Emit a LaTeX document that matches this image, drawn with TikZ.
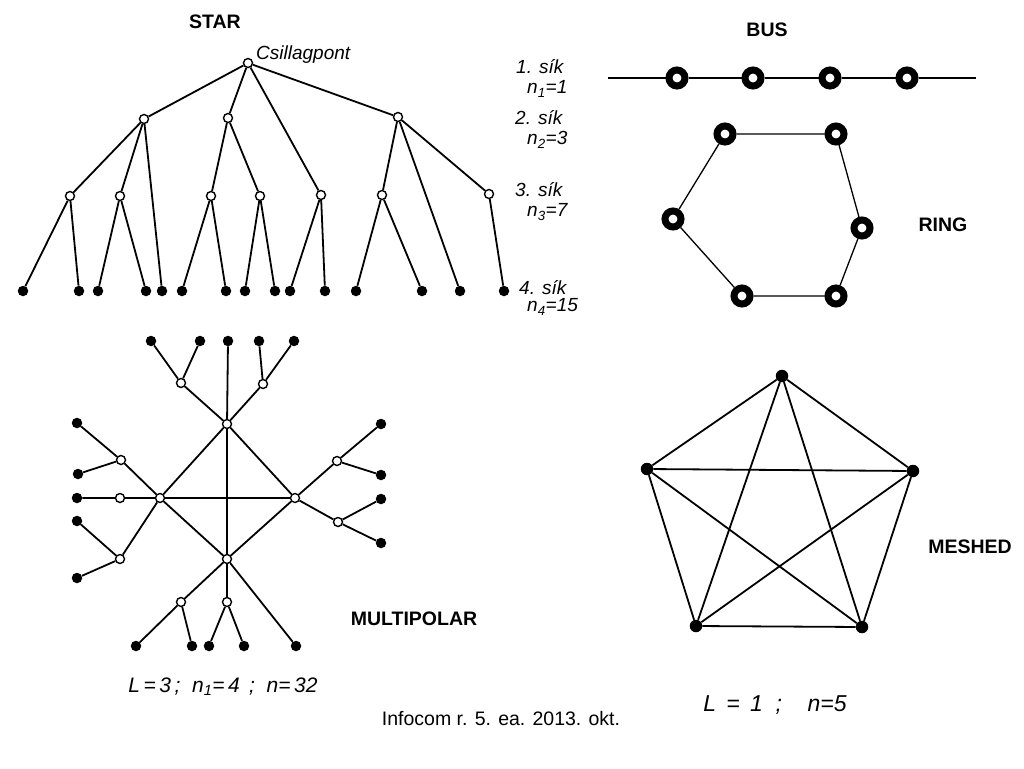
\documentclass[tikz,border=0pt]{standalone}
\usepackage{fontspec}
\setmainfont{Liberation Sans}
\begin{document}
\begin{tikzpicture}[x=1pt,y=-1pt,
  opn/.style={circle,draw,fill=white,inner sep=0pt,minimum size=9pt,line width=1.4pt},
  leaf/.style={circle,fill=black,inner sep=0pt,minimum size=10.5pt},
  busnode/.style={circle,draw,line width=7pt,fill=white,inner sep=0pt,minimum size=16pt},
  meshnode/.style={circle,fill=black,inner sep=0pt,minimum size=12.5pt},
  edge/.style={line width=1.8pt},
  thin/.style={line width=1.3pt},
  title/.style={font=\bfseries\fontsize{19.5}{22}\selectfont},
  hand/.style={font=\itshape\fontsize{19}{21}\selectfont,inner sep=0pt},
  handL/.style={font=\itshape\fontsize{21}{24}\selectfont,inner sep=0pt},
  handM/.style={font=\itshape\fontsize{23}{26}\selectfont,inner sep=0pt},
  foot/.style={font=\fontsize{19.5}{24}\selectfont}]
\useasboundingbox (0,0) rectangle (1024,768);

% ---------------- STAR ----------------
\node[opn] (R) at (248,63) {};
\node[opn] (a) at (144,119) {};
\node[opn] (b) at (228,118) {};
\node[opn] (c) at (398,117) {};
\node[opn] (a1) at (70,196) {};
\node[opn] (a2) at (120,196) {};
\node[opn] (b1) at (211,196) {};
\node[opn] (b2) at (260,196) {};
\node[opn] (d) at (321,195) {};
\node[opn] (c1) at (382,195) {};
\node[opn] (c2) at (489,194) {};
\foreach \i/\x in {1/23,2/79,3/98,4/146,5/162,6/182,7/226,8/245,9/275,10/290,11/325,12/356,13/422,14/460,15/504}
  \node[leaf] (s\i) at (\x,291) {};
\draw[edge] (R)--(a) (R)--(b) (R)--(c) (R)--(d)
  (a)--(a1) (a)--(a2) (a)--(s5)
  (b)--(b1) (b)--(b2)
  (c)--(c1) (c)--(s14) (c)--(c2)
  (a1)--(s1) (a1)--(s2) (a2)--(s3) (a2)--(s4)
  (b1)--(s6) (b1)--(s7) (b2)--(s8) (b2)--(s9)
  (d)--(s10) (d)--(s11) (c1)--(s12) (c1)--(s13) (c2)--(s15);
\node[hand,anchor=west] (cs) at (256,55) {Csillagpont};
\node[hand,anchor=west] (p1) at (516,67) {1. sík};
\node[hand,anchor=west] (q1) at (527,89) {n\textsubscript{1}=1};
\node[hand,anchor=west] (p2) at (515,118) {2. sík};
\node[hand,anchor=west] (q2) at (527,140) {n\textsubscript{2}=3};
\node[hand,anchor=west] (p3) at (515,190) {3. sík};
\node[hand,anchor=west] (q3) at (527,212) {n\textsubscript{3}=7};
\node[hand,anchor=west] (p4) at (519,288) {4. sík};
\node[hand,anchor=west] (q4) at (527,307) {n\textsubscript{4}=15};
\node[title] (startitle) at (215,22) {STAR};

% ---------------- MULTIPOLAR ----------------
\node[opn] (T) at (227,424) {};
\node[opn] (Lh) at (160,498) {};
\node[opn] (Rh) at (295,498) {};
\node[opn] (B) at (227,559) {};
\draw[edge] (T)--(Lh) (T)--(Rh) (B)--(Lh) (B)--(Rh) (T)--(B) (Lh)--(Rh);
% top
\node[opn] (t1) at (181,383) {};
\node[opn] (t2) at (263,384) {};
\node[leaf] (tl1) at (151,341) {};
\node[leaf] (tl2) at (200,341) {};
\node[leaf] (tl3) at (228,341) {};
\node[leaf] (tl4) at (259,341) {};
\node[leaf] (tl5) at (294,341) {};
\draw[edge] (T)--(t1) (T)--(t2) (T)--(tl3) (t1)--(tl1) (t1)--(tl2) (t2)--(tl4) (t2)--(tl5);
% left
\node[opn] (l1) at (121,460) {};
\node[opn] (l2) at (120,498) {};
\node[opn] (l3) at (120,559) {};
\node[leaf] (ll1) at (77,423) {};
\node[leaf] (ll2) at (78,474) {};
\node[leaf] (ll3) at (77,498) {};
\node[leaf] (ll4) at (77,521) {};
\node[leaf] (ll5) at (77,578) {};
\draw[edge] (Lh)--(l1) (Lh)--(l2) (Lh)--(l3) (l1)--(ll1) (l1)--(ll2) (l2)--(ll3) (l3)--(ll4) (l3)--(ll5);
% right
\node[opn] (r1) at (337,461) {};
\node[opn] (r2) at (338,522) {};
\node[leaf] (rl1) at (381,424) {};
\node[leaf] (rl2) at (381,475) {};
\node[leaf] (rl3) at (381,499) {};
\node[leaf] (rl4) at (381,543) {};
\draw[edge] (Rh)--(r1) (Rh)--(r2) (r1)--(rl1) (r1)--(rl2) (r2)--(rl3) (r2)--(rl4);
% bottom
\node[opn] (b1o) at (181,602) {};
\node[opn] (b2o) at (227,602) {};
\node[leaf] (bl1) at (136,646) {};
\node[leaf] (bl2) at (192,646) {};
\node[leaf] (bl3) at (209,646) {};
\node[leaf] (bl4) at (244,646) {};
\node[leaf] (bl5) at (296,646) {};
\draw[edge] (B)--(b1o) (B)--(b2o) (B)--(bl5) (b1o)--(bl1) (b1o)--(bl2) (b2o)--(bl3) (b2o)--(bl4);
\node[title] (multititle) at (414,619) {MULTIPOLAR};
\node[handL] (multilabel) at (223,687) {L\,=\,3\,;\ \ n\textsubscript{1}=\,4\ \,;\ \ n=\,32};

% ---------------- BUS ----------------
\coordinate (bw) at (608,78);
\coordinate (be) at (976,78);
\node[busnode] (u1) at (677,78) {};
\node[busnode] (u2) at (753,78) {};
\node[busnode] (u3) at (830,78) {};
\node[busnode] (u4) at (907,78) {};
\draw[thin] (bw)--(u1)--(u2)--(u3)--(u4)--(be);
\node[title] (bustitle) at (767,30) {BUS};

% ---------------- RING ----------------
\node[busnode] (g1) at (725,134) {};
\node[busnode] (g2) at (836,134) {};
\node[busnode] (g3) at (862,228) {};
\node[busnode] (g4) at (836,296) {};
\node[busnode] (g5) at (742,296) {};
\node[busnode] (g6) at (673,219) {};
\draw[thin] (g1)--(g2)--(g3)--(g4)--(g5)--(g6)--(g1);
\node[title] (ringtitle) at (943,225) {RING};

% ---------------- MESHED ----------------
\node[meshnode] (m1) at (782,376) {};
\node[meshnode] (m2) at (647,469) {};
\node[meshnode] (m3) at (913,471) {};
\node[meshnode] (m4) at (696,626) {};
\node[meshnode] (m5) at (862,627) {};
\draw[edge] (m1)--(m2) (m1)--(m3) (m1)--(m4) (m1)--(m5)
  (m2)--(m3) (m2)--(m4) (m2)--(m5) (m3)--(m4) (m3)--(m5) (m4)--(m5);
\node[title] (meshtitle) at (970,547) {MESHED};
\node[handM] (meshlabel) at (775,705) {L\ \,=\ \,1\ \ ;\ \ \ \ n=5};

% ---------------- FOOTER ----------------
\node[foot] (footer) at (501,719) {Infocom r. 5. ea. 2013. okt.};
\end{tikzpicture}
\end{document}
